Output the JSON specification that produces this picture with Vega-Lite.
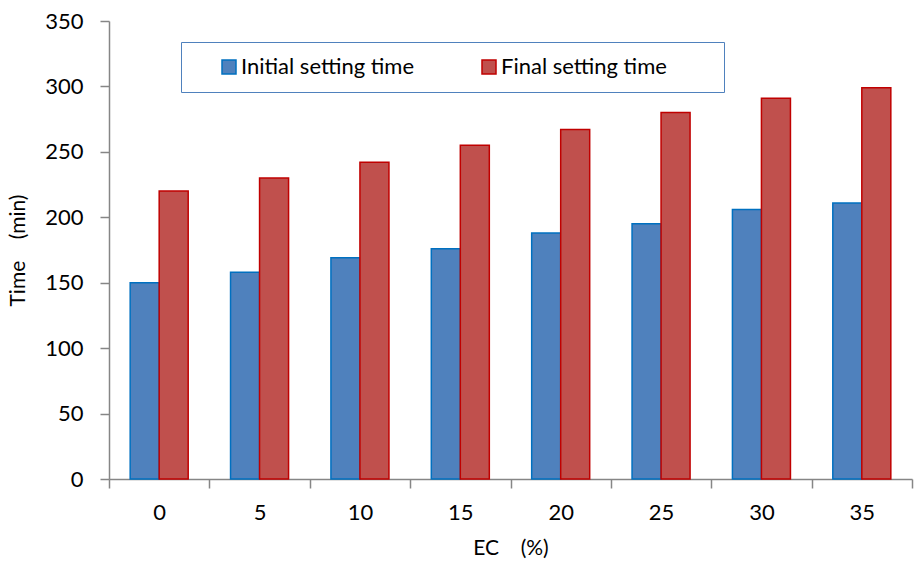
{
  "$schema": "https://vega.github.io/schema/vega-lite/v6.json",
  "width": 803,
  "height": 458,
  "autosize": "none",
  "padding": {"left": 109, "top": 21, "right": 3, "bottom": 89},
  "background": "white",
  "config": {
    "font": "Lato",
    "view": {"stroke": null},
    "axis": {"domainColor": "#868686", "tickColor": "#868686", "domainWidth": 1.5, "tickWidth": 1.5, "labelFont": "Lato", "titleFont": "Lato", "labelColor": "#000", "titleColor": "#000", "labelFontSize": 22, "titleFontSize": 21, "titleFontWeight": "normal", "grid": false}
  },
  "data": {
    "values": [
      {"EC": 0, "series": "Initial setting time", "time": 150},
      {"EC": 5, "series": "Initial setting time", "time": 158},
      {"EC": 10, "series": "Initial setting time", "time": 169},
      {"EC": 15, "series": "Initial setting time", "time": 176},
      {"EC": 20, "series": "Initial setting time", "time": 188},
      {"EC": 25, "series": "Initial setting time", "time": 195},
      {"EC": 30, "series": "Initial setting time", "time": 206},
      {"EC": 35, "series": "Initial setting time", "time": 211},
      {"EC": 0, "series": "Final setting time", "time": 220},
      {"EC": 5, "series": "Final setting time", "time": 230},
      {"EC": 10, "series": "Final setting time", "time": 242},
      {"EC": 15, "series": "Final setting time", "time": 255},
      {"EC": 20, "series": "Final setting time", "time": 267},
      {"EC": 25, "series": "Final setting time", "time": 280},
      {"EC": 30, "series": "Final setting time", "time": 291},
      {"EC": 35, "series": "Final setting time", "time": 299}
    ]
  },
  "mark": {"type": "bar", "strokeWidth": 1.5},
  "encoding": {
    "x": {
      "field": "EC", "type": "ordinal",
      "scale": {"paddingInner": 0, "paddingOuter": 0},
      "axis": {"title": "EC\u00a0\u00a0\u00a0\u00a0(%)", "labelAngle": 0, "tickBand": "extent", "tickSize": 9, "labelPadding": 14, "titlePadding": 14}
    },
    "xOffset": {
      "field": "series", "type": "nominal",
      "sort": ["Initial setting time", "Final setting time"],
      "scale": {"paddingInner": 0, "paddingOuter": 0.73}
    },
    "y": {
      "field": "time", "type": "quantitative",
      "scale": {"domain": [0, 350], "nice": false},
      "axis": {"title": "Time\u00a0\u00a0\u00a0\u00a0(min)", "values": [0, 50, 100, 150, 200, 250, 300, 350], "tickSize": 9, "labelPadding": 17, "titlePadding": 16}
    },
    "color": {
      "field": "series", "type": "nominal",
      "sort": ["Initial setting time", "Final setting time"],
      "scale": {"domain": ["Initial setting time", "Final setting time"], "range": ["#4F81BD", "#C0504D"]},
      "legend": {
        "title": "\u00a0", "titleOrient": "right", "titlePadding": 43, "titleFontSize": 20,
        "orient": "none", "legendX": 72, "legendY": 21, "direction": "horizontal",
        "strokeColor": "#4F81BD", "padding": 14, "symbolType": "square", "symbolSize": 196,
        "symbolStrokeWidth": 1.5, "labelFontSize": 22, "labelFont": "Lato", "labelColor": "#000",
        "columnPadding": 40, "labelOffset": 1, "symbolOffset": 23, "labelLimit": 300
      }
    },
    "stroke": {
      "field": "series", "type": "nominal",
      "scale": {"domain": ["Initial setting time", "Final setting time"], "range": ["#0070C0", "#C00000"]},
      "legend": null
    }
  }
}
